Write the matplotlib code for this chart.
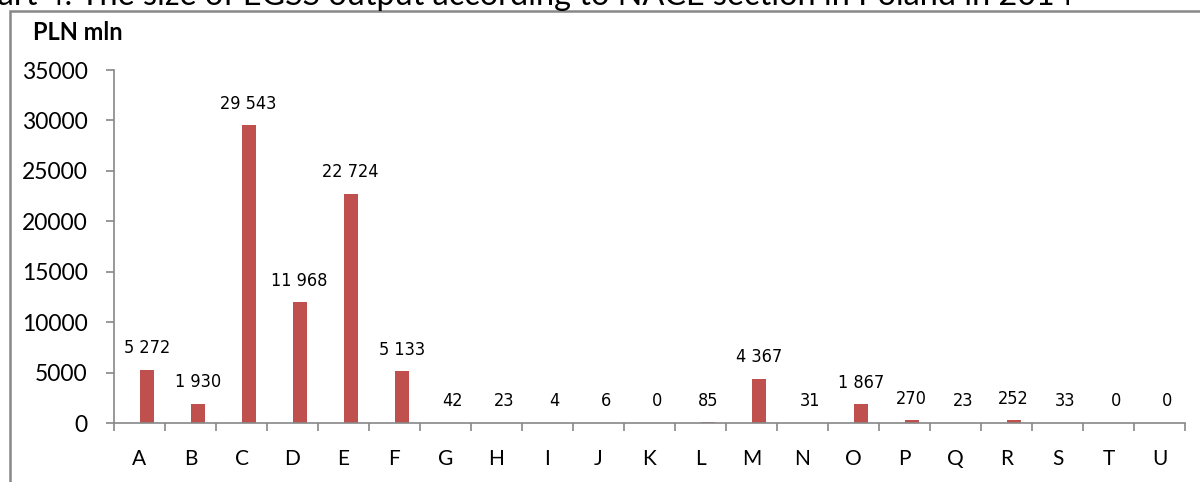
import matplotlib.pyplot as plt
from matplotlib.patches import Rectangle
from matplotlib import font_manager

sections = ['A', 'B', 'C', 'D', 'E', 'F', 'G', 'H', 'I', 'J', 'K',
            'L', 'M', 'N', 'O', 'P', 'Q', 'R', 'S', 'T', 'U']
output = [5272, 1930, 29543, 11968, 22724, 5133, 42, 23, 4, 6, 0,
          85, 4367, 31, 1867, 270, 23, 252, 33, 0, 0]
yticks = [0, 5000, 10000, 15000, 20000, 25000, 30000, 35000]

# pick a narrow font for the data labels if one is installed
fonts = font_manager.fontManager.ttflist
label_font = dict(family='Liberation Sans', fontsize=13)
if any(f.name == 'Liberation Sans Narrow' for f in fonts):
    label_font = dict(family='Liberation Sans Narrow', fontsize=15)
elif any(f.name == 'DejaVu Sans' and f.stretch == 'condensed' for f in fonts):
    label_font = dict(family='DejaVu Sans', fontstretch='condensed', fontsize=13)
main_font = 'Lato'

fig = plt.figure(figsize=(12, 4.82), dpi=100, facecolor='white')
ax = fig.add_axes([114 / 1200, 1 - 423 / 482, 1071 / 1200, 353 / 482])

x = list(range(len(sections)))
# Excel places the bar a bit right of the category centre
ax.bar([i + 0.14 for i in x], output, width=0.28, color='#C0504D', zorder=2)

for xi, v in zip(x, output):
    ax.annotate(f'{v:,}'.replace(',', ' '), (xi + 0.14, v), textcoords='offset points',
                xytext=(0, 9), ha='center', va='bottom', color='black', **label_font)

ax.set_xlim(-0.5, len(sections) - 0.5)
ax.set_ylim(0, 35000)
ax.set_yticks(yticks)
ax.set_yticklabels([str(t) for t in yticks], fontsize=16.5, family=main_font)

ax.set_xticks(x)
ax.set_xticklabels(sections, fontsize=15, family=main_font)
ax.set_xticks([i - 0.5 for i in range(len(sections) + 1)], minor=True)
ax.tick_params(axis='x', which='major', length=0, pad=19)
ax.tick_params(axis='x', which='minor', length=6, color='#888888', width=1.2, direction='out')
ax.tick_params(axis='y', length=6, color='#888888', width=1.2, direction='out', pad=13)

for s in ['top', 'right']:
    ax.spines[s].set_visible(False)
for s in ['left', 'bottom']:
    ax.spines[s].set_color('#888888')
    ax.spines[s].set_linewidth(1.2)

fig.text(33 / 1200, 1 - 33 / 482, 'PLN mln', fontsize=17, fontweight='bold',
         family=main_font, va='center', ha='left')

# caption above the chart, cut off by the top and left edges as in the source
fig.text(-42 / 1200, 1 - 5 / 482, 'Chart 4. The size of EGSS output according to NACE section in Poland in 2014',
         fontsize=23.3, family=main_font, va='baseline', ha='left')

fig.patches.append(Rectangle((10 / 1200, -0.1), 1.2, 1 - 11 / 482 + 0.1,
                             transform=fig.transFigure, fill=False,
                             edgecolor='#888888', linewidth=1.8))

fig.savefig('out.png', dpi=100, facecolor='white')
